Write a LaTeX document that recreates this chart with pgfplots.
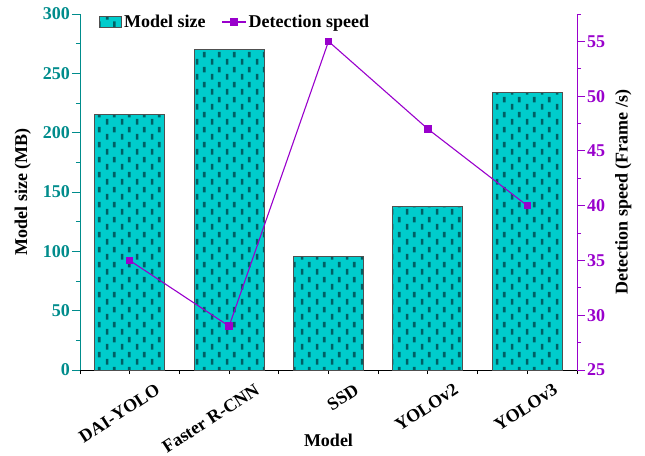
\documentclass[border=0pt]{standalone}
\usepackage{fontspec}
\setmainfont{Liberation Serif}
\usepackage{pgfplots}
\pgfplotsset{compat=1.18}
\usetikzlibrary{patterns}
\definecolor{barfill}{RGB}{0,204,204}
\definecolor{dashc}{RGB}{0,95,100}
\definecolor{tealtxt}{RGB}{0,140,140}
\definecolor{purp}{RGB}{153,0,204}
\definecolor{edge}{RGB}{80,80,80}
\pgfdeclarepatternformonly{dashbrick}{\pgfpointorigin}{\pgfpoint{15pt}{15pt}}{\pgfpoint{15pt}{15pt}}{%
  \pgfpathrectangle{\pgfpoint{1pt}{0.5pt}}{\pgfpoint{2.7pt}{6pt}}%
  \pgfpathrectangle{\pgfpoint{8.5pt}{8pt}}{\pgfpoint{2.7pt}{6pt}}%
  \pgfusepath{fill}}
\newcommand{\lblfont}{\fontsize{18}{21}\selectfont\bfseries}
\pgfplotsset{
  barleg/.style={legend image code/.code={\draw[##1] (0pt,-5.5pt) rectangle (22pt,5.5pt);}},
  lineleg/.style={legend image code/.code={\draw[##1, mark=none] (0pt,0pt) -- (24pt,0pt); \draw[##1, only marks] plot coordinates {(12pt,0pt)};}},
}
\begin{document}
\begin{tikzpicture}
\useasboundingbox (-80pt,-85pt) rectangle (565pt,370pt);
\begin{axis}[
  at={(0pt,0pt)}, anchor=south west,
  scale only axis, width=497pt, height=356pt,
  xmin=-0.5, xmax=4.5, ymin=0, ymax=300,
  axis x line*=bottom, axis y line*=left,
  axis line style={-, line width=0.9pt},
  y axis line style={tealtxt},
  x axis line style={black},
  tick align=outside,
  major tick length=8pt, minor tick length=4pt,
  ytick={0,50,...,300}, minor ytick={25,75,...,275},
  ytick style={tealtxt, line width=0.9pt},
  yticklabel style={tealtxt, font=\lblfont, inner sep=2pt},
  xtick={0,1,2,3,4},
  xticklabels={DAI-YOLO, Faster R-CNN, SSD, YOLOv2, YOLOv3},
  minor xtick={-0.5,0,...,4.5},
  xtick style={draw=none},
  minor x tick style={draw=black, line width=0.9pt},
  xticklabel style={font=\lblfont, rotate=33, anchor=north east, xshift=21.7pt, yshift=-14.3pt},
  /pgf/number format/assume math mode=true,
  xlabel={Model}, ylabel={Model size (MB)},
  xlabel style={font=\lblfont, at={(axis description cs:0.5,-0.197)}, anchor=center},
  ylabel style={font=\lblfont, at={(axis description cs:-0.115,0.5)}, anchor=center},
  ybar, bar width=0.705,
]
\addplot[draw=edge, line width=1pt, fill=barfill, postaction={pattern=dashbrick, pattern color=dashc}]
  coordinates {(0,215) (1,270) (2,96) (3,138) (4,234)};
\end{axis}
\begin{axis}[
  at={(0pt,0pt)}, anchor=south west,
  scale only axis, width=497pt, height=356pt,
  xmin=-0.5, xmax=4.5, ymin=25, ymax=57.5,
  axis x line=none, axis y line*=right,
  axis line style={-, line width=0.9pt},
  y axis line style={purp},
  tick align=outside,
  major tick length=8pt, minor tick length=4pt,
  ytick={25,30,...,55}, minor ytick={27.5,32.5,...,57.5},
  ytick style={purp, line width=0.9pt},
  yticklabel style={purp, font=\lblfont, inner sep=2pt},
  /pgf/number format/assume math mode=true,
  ylabel={Detection speed (Frame /s)},
  ylabel style={font=\lblfont, at={(axis description cs:1.093,0.5)}, anchor=center},
  legend columns=2,
  legend style={draw=none, fill=none, font=\lblfont, at={(axis description cs:0.032,0.9775)}, anchor=west,
    /tikz/every even column/.append style={column sep=14pt},
    nodes={inner sep=2pt}},
]
\addlegendimage{draw=edge, line width=1pt, fill=barfill, postaction={pattern=dashbrick, pattern color=dashc}, barleg}
\addlegendentry{Model size}
\addplot[purp, line width=1.1pt, mark=square*, mark size=3.2pt, lineleg]
  coordinates {(0,35) (1,29) (2,55) (3,47) (4,40)};
\addlegendentry{Detection speed}
\end{axis}
\end{tikzpicture}
\end{document}
